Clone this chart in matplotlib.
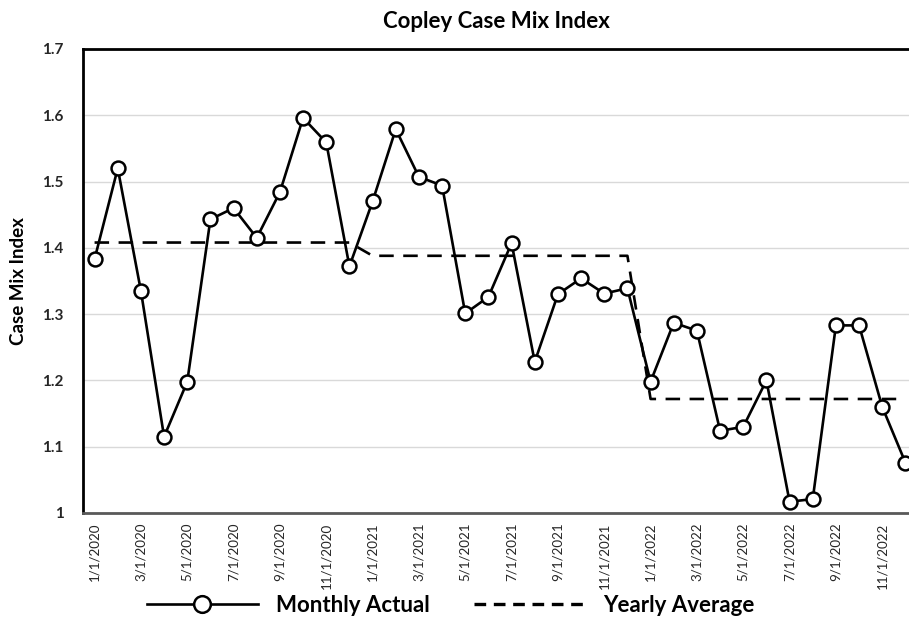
import matplotlib
matplotlib.use("Agg")
import matplotlib.pyplot as plt
from matplotlib.lines import Line2D
from matplotlib.ticker import FuncFormatter

plt.rcParams['font.family'] = ['Lato', 'DejaVu Sans']

# monthly case mix index, one list per year
cmi_2020 = [1.383, 1.520, 1.335, 1.115, 1.198, 1.443, 1.460, 1.415, 1.484, 1.596, 1.559, 1.372]
cmi_2021 = [1.470, 1.579, 1.507, 1.494, 1.301, 1.326, 1.407, 1.228, 1.330, 1.354, 1.331, 1.339]
cmi_2022 = [1.198, 1.287, 1.275, 1.124, 1.130, 1.200, 1.017, 1.021, 1.283, 1.283, 1.160, 1.076]

# yearly averages (2020, 2021, 2022)
yearly_avg = [1.408, 1.388, 1.172]

tick_labels = ["1/1/2020", "3/1/2020", "5/1/2020", "7/1/2020", "9/1/2020", "11/1/2020",
               "1/1/2021", "3/1/2021", "5/1/2021", "7/1/2021", "9/1/2021", "11/1/2021",
               "1/1/2022", "3/1/2022", "5/1/2022", "7/1/2022", "9/1/2022", "11/1/2022"]

monthly = cmi_2020 + cmi_2021 + cmi_2022
avg_line = [a for a in yearly_avg for _ in range(12)]
x = list(range(len(monthly)))

fig = plt.figure(figsize=(9.09, 6.41), dpi=100)
ax = fig.add_axes([0.0913, 0.1997, 0.9175, 0.7239])

dash = (0, (5.5, 3.6))
ax.plot(x, avg_line, color='black', lw=1.9, ls=dash, zorder=2)
ax.plot(x, monthly, color='black', lw=1.9, marker='o', markersize=10,
        markerfacecolor='white', markeredgecolor='black', markeredgewidth=1.8, zorder=3)

ax.set_xlim(-0.5, 35.5)
ax.set_ylim(1.0, 1.7)
ax.set_yticks([1.0, 1.1, 1.2, 1.3, 1.4, 1.5, 1.6, 1.7])
ax.yaxis.set_major_formatter(FuncFormatter(lambda v, p: '%g' % round(v, 2)))
ax.set_xticks(x[::2])
ax.set_xticklabels(tick_labels, rotation=90)
ax.tick_params(axis='both', length=0, colors='#262626')
ax.tick_params(axis='y', pad=14, labelsize=11)
ax.tick_params(axis='x', pad=7, labelsize=9.6)
for lab in ax.get_yticklabels():
    lab.set_fontweight('bold')

ax.grid(axis='y', color='#d9d9d9', lw=1)
ax.set_axisbelow(True)
ax.spines['left'].set_linewidth(2)
ax.spines['top'].set_linewidth(2)
ax.spines['bottom'].set_linewidth(2)
ax.spines['bottom'].set_color('#595959')
ax.spines['right'].set_visible(False)

ax.set_ylabel('Case Mix Index', fontsize=13.5, fontweight='bold', labelpad=11)
fig.text(0.546, 0.956, 'Copley Case Mix Index', ha='center', va='baseline',
         fontsize=16, fontweight='bold')

handles = [
    Line2D([], [], color='black', lw=1.9, marker='o', markersize=12,
           markerfacecolor='white', markeredgecolor='black', markeredgewidth=1.8),
    Line2D([], [], color='black', lw=2.4, ls=(0, (3.5, 2.3))),
]
fig.legend(handles, ['Monthly Actual', 'Yearly Average'], loc='center',
           bbox_to_anchor=(0.4956, 0.055), ncol=2, frameon=False,
           prop={'weight': 'bold', 'size': 16},
           handlelength=5.0, columnspacing=2.0, handletextpad=0.8)

fig.savefig('out.png', dpi=100)
